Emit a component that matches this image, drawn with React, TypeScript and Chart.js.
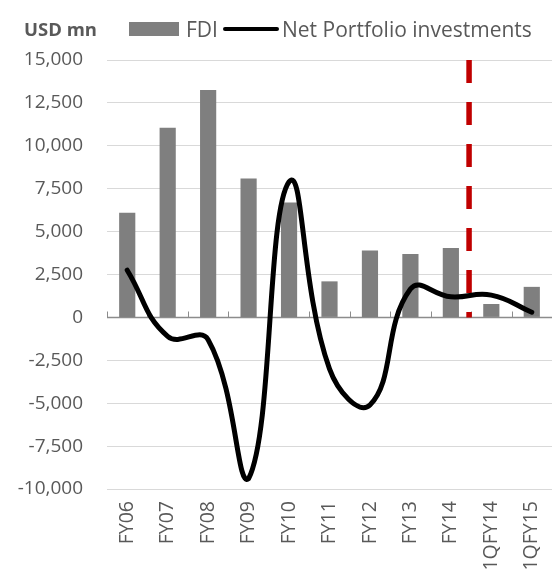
import React, { useEffect, useRef } from 'react';
import { Chart, registerables } from 'chart.js';

Chart.register(...registerables);

const categories = ['FY06', 'FY07', 'FY08', 'FY09', 'FY10', 'FY11', 'FY12', 'FY13', 'FY14', '1QFY14', '1QFY15'];
const fdiValues = [6100, 11050, 13250, 8100, 6700, 2100, 3900, 3700, 4050, 780, 1780];
const portfolioValues = [2750, -1100, -1300, -9400, 7900, -3000, -5100, 1650, 1200, 1300, 300];
const yMin = -10000;
const yMax = 15000;
const yStep = 2500;
const dividerPosition = 8.45; // between FY14 and 1QFY14
const unitLabel = 'USD mn';
const fdiLabel = 'FDI';
const portfolioLabel = 'Net Portfolio investments';

const FONT = "'Open Sans', 'Noto Sans', sans-serif";
const TEXT = '#595959';

const overlayPlugin = {
  id: 'overlay',
  beforeDatasetsDraw(chart: any) {
    const { ctx, chartArea, scales } = chart;
    const xs = scales.x;
    const ys = scales.y;
    const y0 = Math.round(ys.getPixelForValue(0)) + 0.5;
    ctx.save();
    ctx.strokeStyle = '#8C8C8C';
    ctx.lineWidth = 1.6;
    ctx.beginPath();
    ctx.moveTo(chartArea.left, y0);
    ctx.lineTo(chartArea.right, y0);
    ctx.stroke();
    ctx.lineWidth = 1;
    for (let i = 0; i <= categories.length; i++) {
      const px = Math.round(xs.getPixelForValue(i - 0.5)) + 0.5;
      ctx.beginPath();
      ctx.moveTo(px, y0);
      ctx.lineTo(px, y0 - 6);
      ctx.stroke();
    }
    const xd = xs.getPixelForValue(dividerPosition);
    ctx.strokeStyle = '#C00000';
    ctx.lineWidth = 5.5;
    ctx.setLineDash([23, 19]);
    ctx.beginPath();
    ctx.moveTo(xd, ys.getPixelForValue(yMax));
    ctx.lineTo(xd, ys.getPixelForValue(0));
    ctx.stroke();
    ctx.restore();
  },
};

export default function App() {
  const canvasRef = useRef<HTMLCanvasElement | null>(null);

  useEffect(() => {
    if (!canvasRef.current) return;
    const chart = new Chart(canvasRef.current, {
      type: 'bar',
      data: {
        labels: categories,
        datasets: [
          {
            type: 'line',
            label: portfolioLabel,
            data: portfolioValues,
            borderColor: '#000000',
            backgroundColor: '#000000',
            borderWidth: 5,
            pointRadius: 0,
            tension: 0.45,
            borderCapStyle: 'round',
            borderJoinStyle: 'round',
            order: 0,
          } as any,
          {
            type: 'bar',
            label: fdiLabel,
            data: fdiValues,
            backgroundColor: '#7F7F7F',
            barPercentage: 0.4,
            categoryPercentage: 1,
            order: 1,
          },
        ],
      },
      options: {
        responsive: false,
        animation: false,
        devicePixelRatio: 1,
        layout: { padding: { top: 60, right: 0, left: 0, bottom: 0 } },
        plugins: {
          legend: { display: false },
          tooltip: { enabled: false },
        },
        scales: {
          x: {
            grid: { display: false, drawTicks: false },
            border: { display: false },
            ticks: {
              color: TEXT,
              font: { family: FONT, size: 19.5 },
              minRotation: 90,
              maxRotation: 90,
              autoSkip: false,
              padding: 12,
            },
            afterFit: (scale: any) => {
              scale.height = 88;
              scale.paddingLeft = 0;
              scale.paddingRight = 0;
            },
          },
          y: {
            min: yMin,
            max: yMax,
            grid: { color: '#D9D9D9', lineWidth: 1, drawTicks: false },
            border: { display: false },
            ticks: {
              stepSize: yStep,
              color: TEXT,
              font: { family: FONT, size: 19 },
              padding: 24,
              callback: (v: any) => Number(v).toLocaleString('en-US'),
            },
            afterFit: (scale: any) => {
              scale.width = 107;
            },
          },
        },
      },
      plugins: [overlayPlugin],
    });
    return () => chart.destroy();
  }, []);

  return (
    <div style={{ position: 'absolute', left: 0, top: 0, width: 552, height: 577, overflow: 'hidden', background: '#fff' }}>
      <canvas ref={canvasRef} width={552} height={577} style={{ position: 'absolute', left: 0, top: 0 }} />
      <div style={{ position: 'absolute', left: 24, top: 15, fontFamily: FONT, fontWeight: 700, fontSize: 18.5, color: TEXT, lineHeight: '28px', whiteSpace: 'nowrap' }}>
        {unitLabel}
      </div>
      <div style={{ position: 'absolute', left: 129, top: 22, width: 50, height: 14, background: '#7F7F7F' }} />
      <div style={{ position: 'absolute', left: 186, top: 14, fontFamily: FONT, fontSize: 21, color: TEXT, lineHeight: '30px' }}>
        {fdiLabel}
      </div>
      <div style={{ position: 'absolute', left: 223, top: 27, width: 56, height: 4, background: '#000', borderRadius: 2 }} />
      <div style={{ position: 'absolute', left: 282, top: 14, fontFamily: FONT, fontSize: 21, color: TEXT, lineHeight: '30px', whiteSpace: 'nowrap' }}>
        {portfolioLabel}
      </div>
    </div>
  );
}
